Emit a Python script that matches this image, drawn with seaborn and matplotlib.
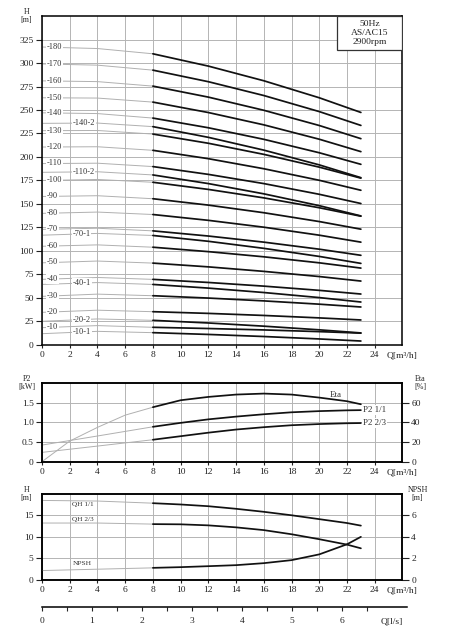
import numpy as np
import pandas as pd
import matplotlib
matplotlib.use("Agg")
import matplotlib.pyplot as plt
import seaborn as sns

# ---------------- top chart: H-Q curves per model ----------------
models = ["-180", "-170", "-160", "-150", "-140", "-140-2", "-130", "-120",
          "-110", "-110-2", "-100", "-90", "-80", "-70", "-70-1", "-60",
          "-50", "-40", "-40-1", "-30", "-20", "-20-2", "-10", "-10-1"]
q_gray = [0, 4, 8]
q_black = [8, 12, 16, 20, 23]
h_q0 = [317, 299, 281, 263, 247, 235.8, 228, 210.6, 193, 183.7, 175, 158, 140, 123,
        116.8, 105, 87.4, 69.8, 64.4, 51.7, 34.7, 25.2, 18.4, 12]
h_q4 = [315.4, 297.7, 280.2, 262.7, 246.2, 236.1, 228.2, 210.9, 193.4, 184.3, 176.1,
        158.8, 141.4, 124.2, 118.7, 106.5, 89.3, 71.8, 66.4, 54.1, 37.0, 27.7, 20.6, 14.5]
h_q8 = [309.8, 292.4, 275.4, 258.4, 241.4, 232.3, 224.4, 207.1, 189.8, 180.9, 173.1,
        155.6, 138.8, 121.4, 116.5, 104, 87.1, 69.8, 64.4, 52.4, 35.4, 26.2, 18.8, 13.1]
h_q12 = [296.7, 280.1, 263.7, 247.3, 231.1, 220.9, 214.6, 198.2, 181.5, 171.7, 165.5,
         148.8, 132.6, 115.9, 110.3, 99.3, 83.1, 66.5, 60.5, 49.9, 33.6, 23.4, 17.5, 11.2]
h_q16 = [281.1, 265.4, 249.7, 234.2, 218.8, 207.3, 202.8, 187.5, 171.7, 160.8, 156.5,
         140.7, 125.3, 109.4, 102.8, 93.8, 78.3, 62.6, 55.8, 46.9, 31.4, 20.0, 16.0, 9.0]
h_q20 = [263.0, 248.3, 233.5, 218.9, 204.5, 191.6, 189.2, 175.2, 160.3, 148.2, 146.0,
         131.3, 116.8, 101.9, 94.2, 87.4, 72.8, 58.1, 50.4, 43.4, 28.8, 16.1, 14.2, 6.4]
h_q23 = [247.4, 233.6, 219.5, 205.7, 192.2, 178.0, 177.5, 164.6, 150.5, 137.3, 137.0,
         123.2, 109.4, 95.4, 86.8, 81.8, 68.0, 54.2, 45.7, 40.4, 26.6, 12.8, 12.6, 4.2]
info_lines = ["50Hz", "AS/AC15", "2900rpm"]

# ---------------- middle chart: P2 and efficiency ----------------
eta_q = [0, 2, 4, 6, 8, 10, 12, 14, 16, 18, 20, 22, 23]
eta_val = [0, 21, 35, 47.5, 55.6, 62.7, 66.1, 68.5, 69.5, 68.5, 65.4, 61.7, 58.6]
p2_q = [0, 4, 8, 10, 12, 14, 16, 18, 20, 22, 23]
p2_full = [0.424, 0.655, 0.89, 0.99, 1.08, 1.15, 1.21, 1.26, 1.29, 1.31, 1.315]
p2_23 = [0.237, 0.398, 0.56, 0.65, 0.74, 0.82, 0.88, 0.93, 0.96, 0.98, 0.985]

# ---------------- bottom chart: impeller QH and NPSH ----------------
qh_q = [0, 4, 8, 10, 12, 14, 16, 18, 20, 22, 23]
qh_full = [18.44, 18.3, 17.8, 17.5, 17.1, 16.5, 15.8, 15.0, 14.1, 13.2, 12.6]
qh_23 = [13.2, 13.2, 12.95, 12.9, 12.66, 12.2, 11.56, 10.6, 9.45, 8.2, 7.34]
npsh = [0.875, 1.0, 1.125, 1.19, 1.28, 1.375, 1.56, 1.84, 2.375, 3.31, 4.0]

x_ticks = list(range(0, 25, 2))
x_unit = "Q[m³/h]"
ls_ticks = [0, 1, 2, 3, 4, 5, 6]
ls_unit = "Q[l/s]"

# ---------------- style ----------------
sns.set_style("white")
plt.rcParams["font.family"] = ["Liberation Serif", "DejaVu Serif"]
plt.rcParams["axes.edgecolor"] = "black"
plt.rcParams["axes.linewidth"] = 1.1

GRAY = "#b0b0b0"
GRID = "#b4b4b4"
BLACK = "#111111"
TICK_FS = 6.8

fig = plt.figure(figsize=(4.51, 6.43), dpi=100)
L, W = 0.0931, 0.7993
ax1 = fig.add_axes([L, 0.4635, W, 0.5116])
ax2 = fig.add_axes([L, 0.2820, W, 0.1219])
ax3 = fig.add_axes([L, 0.0980, W, 0.1342])


def style_x(ax):
    ax.set_xlim(0, 26)
    ax.set_xticks(x_ticks + [26])
    ax.set_xticklabels([str(t) for t in x_ticks] + [x_unit])
    ax.tick_params(axis="x", bottom=True, direction="out", length=2.4, width=0.8,
                   pad=2.2, labelsize=TICK_FS, colors="#222222")
    ax.xaxis.get_major_ticks()[-1].tick1line.set_visible(False)
    ax.grid(True, color=GRID, lw=0.7)
    ax.set_axisbelow(True)
    ax.set_xlabel("")
    ax.set_ylabel("")


def style_y(ax):
    ax.tick_params(axis="y", left=True, direction="out", length=4.5, width=0.8,
                   pad=1.5, labelsize=TICK_FS, colors="#222222")


def style_right(ax):
    ax.tick_params(axis="y", right=True, direction="out", length=4.7, width=0.8,
                   pad=1.7, labelsize=TICK_FS, colors="#222222")
    ax.set_ylabel("")
    ax.grid(False)


# ---------- top chart ----------
rows_g, rows_b = [], []
for i, m in enumerate(models):
    for q, h in zip(q_gray, [h_q0[i], h_q4[i], h_q8[i]]):
        rows_g.append((m, q, h))
    for q, h in zip(q_black, [h_q8[i], h_q12[i], h_q16[i], h_q20[i], h_q23[i]]):
        rows_b.append((m, q, h))
df_g = pd.DataFrame(rows_g, columns=["model", "Q", "H"])
df_b = pd.DataFrame(rows_b, columns=["model", "Q", "H"])
sns.lineplot(data=df_g, x="Q", y="H", units="model", estimator=None, color=GRAY,
             lw=0.7, ax=ax1, sort=False)
sns.lineplot(data=df_b, x="Q", y="H", units="model", estimator=None, color=BLACK,
             lw=1.25, ax=ax1, sort=False)
style_x(ax1)
ax1.set_ylim(0, 350)
ax1.set_yticks(range(0, 326, 25))
style_y(ax1)
for i, m in enumerate(models):
    variant = m.count("-") == 2
    x0 = 2.2 if variant else 0.35
    xc = x0 + (0.8 if variant else 0.55)
    yc = np.interp(xc, q_gray, [h_q0[i], h_q4[i], h_q8[i]])
    ax1.text(x0, yc, m, fontsize=6, ha="left", va="center", color="#333333",
             bbox=dict(facecolor="white", edgecolor="none", pad=0.6), zorder=5)
ax1.add_patch(plt.Rectangle((0.817, 0.897), 0.183, 0.103, transform=ax1.transAxes,
                            facecolor="white", edgecolor="#333333", lw=0.9, zorder=6))
for txt, yy in zip(info_lines, [0.976, 0.948, 0.920]):
    ax1.text(0.909, yy, txt, transform=ax1.transAxes, ha="center", va="center",
             fontsize=6.8, color="#222222", zorder=7)
ax1.text(-0.0425, 1.0, "H\n[m]", transform=ax1.transAxes, ha="center", va="center",
         fontsize=5.8, linespacing=0.95, color="#222222")

# ---------- middle chart ----------
ax2r = ax2.twinx()
p2q = np.array(p2_q)
eq = np.array(eta_q)
for vals in (p2_full, p2_23):
    v = np.array(vals)
    sns.lineplot(x=p2q[p2q <= 8], y=v[p2q <= 8], color=GRAY, lw=0.7, ax=ax2)
    sns.lineplot(x=p2q[p2q >= 8], y=v[p2q >= 8], color=BLACK, lw=1.25, ax=ax2)
ev = np.array(eta_val)
sns.lineplot(x=eq[eq <= 8], y=ev[eq <= 8], color=GRAY, lw=0.7, ax=ax2r)
sns.lineplot(x=eq[eq >= 8], y=ev[eq >= 8], color=BLACK, lw=1.25, ax=ax2r)
style_x(ax2)
ax2.set_ylim(0, 2.0)
ax2.set_yticks([0, 0.5, 1.0, 1.5])
ax2.set_yticklabels(["0", "0.5", "1.0", "1.5"])
style_y(ax2)
ax2r.set_ylim(0, 80)
ax2r.set_yticks([0, 20, 40, 60])
ax2r.set_yticklabels(["0", "20", "40", "60"])
style_right(ax2r)
ax2.text(23.15, p2_full[-1], "P2 1/1", fontsize=6.5, ha="left", va="center",
         color="#333333", bbox=dict(facecolor="white", edgecolor="none", pad=0.6), zorder=5)
ax2.text(23.15, p2_23[-1], "P2 2/3", fontsize=6.5, ha="left", va="center",
         color="#333333", bbox=dict(facecolor="white", edgecolor="none", pad=0.6), zorder=5)
ax2r.text(21.2, 68.5, "Eta", fontsize=6.5, ha="center", va="center", color="#333333")
ax2.text(-0.0425, 1.0, "P2\n[kW]", transform=ax2.transAxes, ha="center", va="center",
         fontsize=5.8, linespacing=0.95, color="#222222")
ax2.text(1.0485, 1.0, "Eta\n[%]", transform=ax2.transAxes, ha="center", va="center",
         fontsize=5.8, linespacing=0.95, color="#222222")

# ---------- bottom chart ----------
ax3r = ax3.twinx()
hq = np.array(qh_q)
for vals in (qh_full, qh_23):
    v = np.array(vals)
    sns.lineplot(x=hq[hq <= 8], y=v[hq <= 8], color=GRAY, lw=0.7, ax=ax3)
    sns.lineplot(x=hq[hq >= 8], y=v[hq >= 8], color=BLACK, lw=1.25, ax=ax3)
nv = np.array(npsh)
sns.lineplot(x=hq[hq <= 8], y=nv[hq <= 8], color=GRAY, lw=0.7, ax=ax3r)
sns.lineplot(x=hq[hq >= 8], y=nv[hq >= 8], color=BLACK, lw=1.25, ax=ax3r)
style_x(ax3)
ax3.set_ylim(0, 20)
ax3.set_yticks([0, 5, 10, 15])
style_y(ax3)
ax3r.set_ylim(0, 8)
ax3r.set_yticks([0, 2, 4, 6])
style_right(ax3r)
ax3.text(2.2, 17.5, "QH 1/1", fontsize=5.2, ha="left", va="center", color="#333333")
ax3.text(2.2, 14.1, "QH 2/3", fontsize=5.2, ha="left", va="center", color="#333333")
ax3.text(2.25, 3.9, "NPSH", fontsize=5.4, ha="left", va="center", color="#333333")
ax3.text(-0.0425, 1.0, "H\n[m]", transform=ax3.transAxes, ha="center", va="center",
         fontsize=5.8, linespacing=0.95, color="#222222")
ax3.text(1.042, 1.0, "NPSH\n[m]", transform=ax3.transAxes, ha="center", va="center",
         fontsize=5.8, linespacing=0.95, color="#222222")

# ---------- secondary flow axis in l/s ----------
ax4 = fig.add_axes([L, 0.0555, 0.81, 0.0001])
ax4.set_facecolor("none")
for s in ("left", "right", "top"):
    ax4.spines[s].set_visible(False)
ax4.spines["bottom"].set_linewidth(1.1)
ax4.set_yticks([])
ax4.set_xlim(0, 7.3)
ax4.set_xticks(ls_ticks + [7.0])
ax4.set_xticklabels([str(t) for t in ls_ticks] + [ls_unit])
ax4.set_xticks(np.arange(0.5, 7.0, 1.0), minor=True)
ax4.tick_params(axis="x", which="major", bottom=True, direction="out", length=3.2,
                width=0.8, pad=3.8, labelsize=TICK_FS, colors="#222222")
ax4.tick_params(axis="x", which="minor", bottom=True, direction="out", length=2.6,
                width=0.8)
ax4.xaxis.get_major_ticks()[-1].tick1line.set_visible(False)

fig.savefig("out.png", dpi=100)
